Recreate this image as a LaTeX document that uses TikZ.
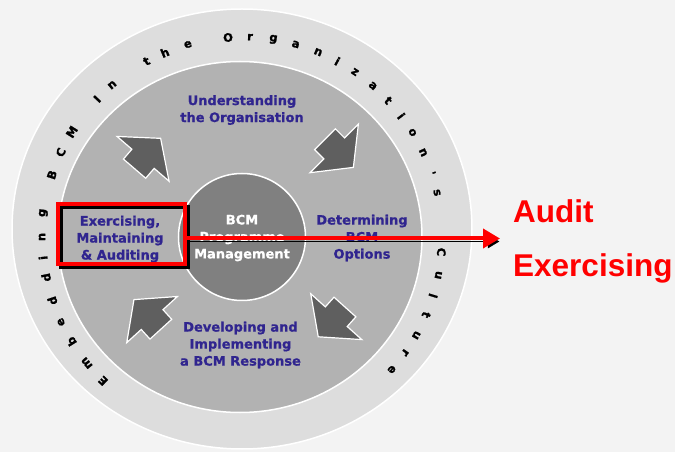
\documentclass[tikz,border=0pt]{standalone}
\usepackage{fontspec}
\setmainfont{DejaVu Sans}[BoldFeatures={FakeBold=0.8}]
\newfontfamily\auditfont{Liberation Sans}
\newfontfamily\ringfont[FakeBold=1.5]{DejaVu Sans}
\usetikzlibrary{arrows.meta}

\definecolor{paper}{HTML}{F3F3F3}
\definecolor{ringgrey}{HTML}{DDDDDD}
\definecolor{wheelgrey}{HTML}{B2B2B2}
\definecolor{hubgrey}{HTML}{808080}
\definecolor{arrowgrey}{HTML}{5F5F5F}
\definecolor{stageblue}{HTML}{30258F}

\tikzset{
  stage/.style={text=stageblue,font=\fontsize{13}{17}\selectfont\bfseries,align=center,inner sep=0pt},
  ringletter/.style={font=\ringfont\fontsize{11.5}{11.5}\selectfont\bfseries,inner sep=0pt},
  cyclearrow/.style={fill=arrowgrey,draw=white,line width=1.2pt,line join=miter},
  redbox/.style={draw=red,line width=4pt,minimum width=127pt,minimum height=60pt,inner sep=0pt,
    preaction={draw=black,transform canvas={shift={(3pt,-3pt)}}}},
  auditarrow/.style={red,line width=4pt,-{Triangle[length=17pt,width=19pt]},
    preaction={draw=black,-{Triangle[length=17pt,width=19pt]},transform canvas={shift={(3pt,-3pt)}}}},
  auditword/.style={text=red,font=\auditfont\fontsize{31.5}{32}\selectfont\bfseries,anchor=base west,inner sep=0pt}
}

\begin{document}
\begin{tikzpicture}[x=1pt,y=1pt]
\useasboundingbox[fill=paper] (-242,-215) rectangle (433,237);

% the three discs
\fill[ringgrey,draw=white,line width=1.5pt] (0,8) ellipse [x radius=230,y radius=220];
\fill[wheelgrey,draw=white,line width=1.5pt] (-2,0) ellipse [x radius=182,y radius=175.5];
\fill[hubgrey,draw=white,line width=1.5pt] (0,0) circle [radius=63.5];

% lettering round the ring
\foreach \ang/\ch in {226/E,219.1/m,211.5/b,205.2/e,198.6/d,191.7/d,186/i,180/n,173.1/g,
  161.9/B,155/C,148.3/M,136.4/I,130.5/n,118.5/t,112.7/h,105.7/e,
  94/O,87.7/r,81/g,74.4/a,67.6/n,61.5/i,55.6/z,49.1/a,43/t,37.2/i,31.5/o,25/n,18.5/',12.8/s,
  -4.3/C,-11/u,-17.1/l,-22.9/t,-29.4/u,-35.3/r,-41.5/e}
  \node[ringletter,rotate=\ang-90] at (\ang:200) {\ch};

% block arrows of the cycle
\foreach \px/\py/\ang in {-94.4/83.5/49.3, 97.2/83.7/-44.8, 89.6/-84.9/228.1, -94.6/-77.4/132.3}
  \draw[cyclearrow,shift={(\px,\py)},rotate=\ang]
    (-20,-14.7) -- (-7,-14.7) -- (-7,-34.3) -- (20,0) -- (-7,34.3) -- (-7,14.7) -- (-20,14.7) -- cycle;

% stages
\node[stage] (understand) at (0,127) {Understanding\\the Organisation};
\node[stage] (determine) at (120,-1) {Determining\\BCM\\Options};
\node[stage] (develop) at (-1.5,-108) {Developing and\\Implementing\\a BCM Response};
\node[stage] (exercise) at (-122,-2) {Exercising,\\Maintaining\\\& Auditing};
\node[stage,text=white] (programme) at (0,-1) {BCM\\Programme\\Management};

% highlight and pointer
\node[redbox] (auditbox) at (-120.5,3) {};
\coordinate (tip) at (258,-1.5);
\draw[auditarrow] (auditbox.east |- tip) -- (tip);

\node[auditword] (audit) at (271,14) {Audit};
\node[auditword] (exercising) at (271,-40) {Exercising};
\end{tikzpicture}
\end{document}
